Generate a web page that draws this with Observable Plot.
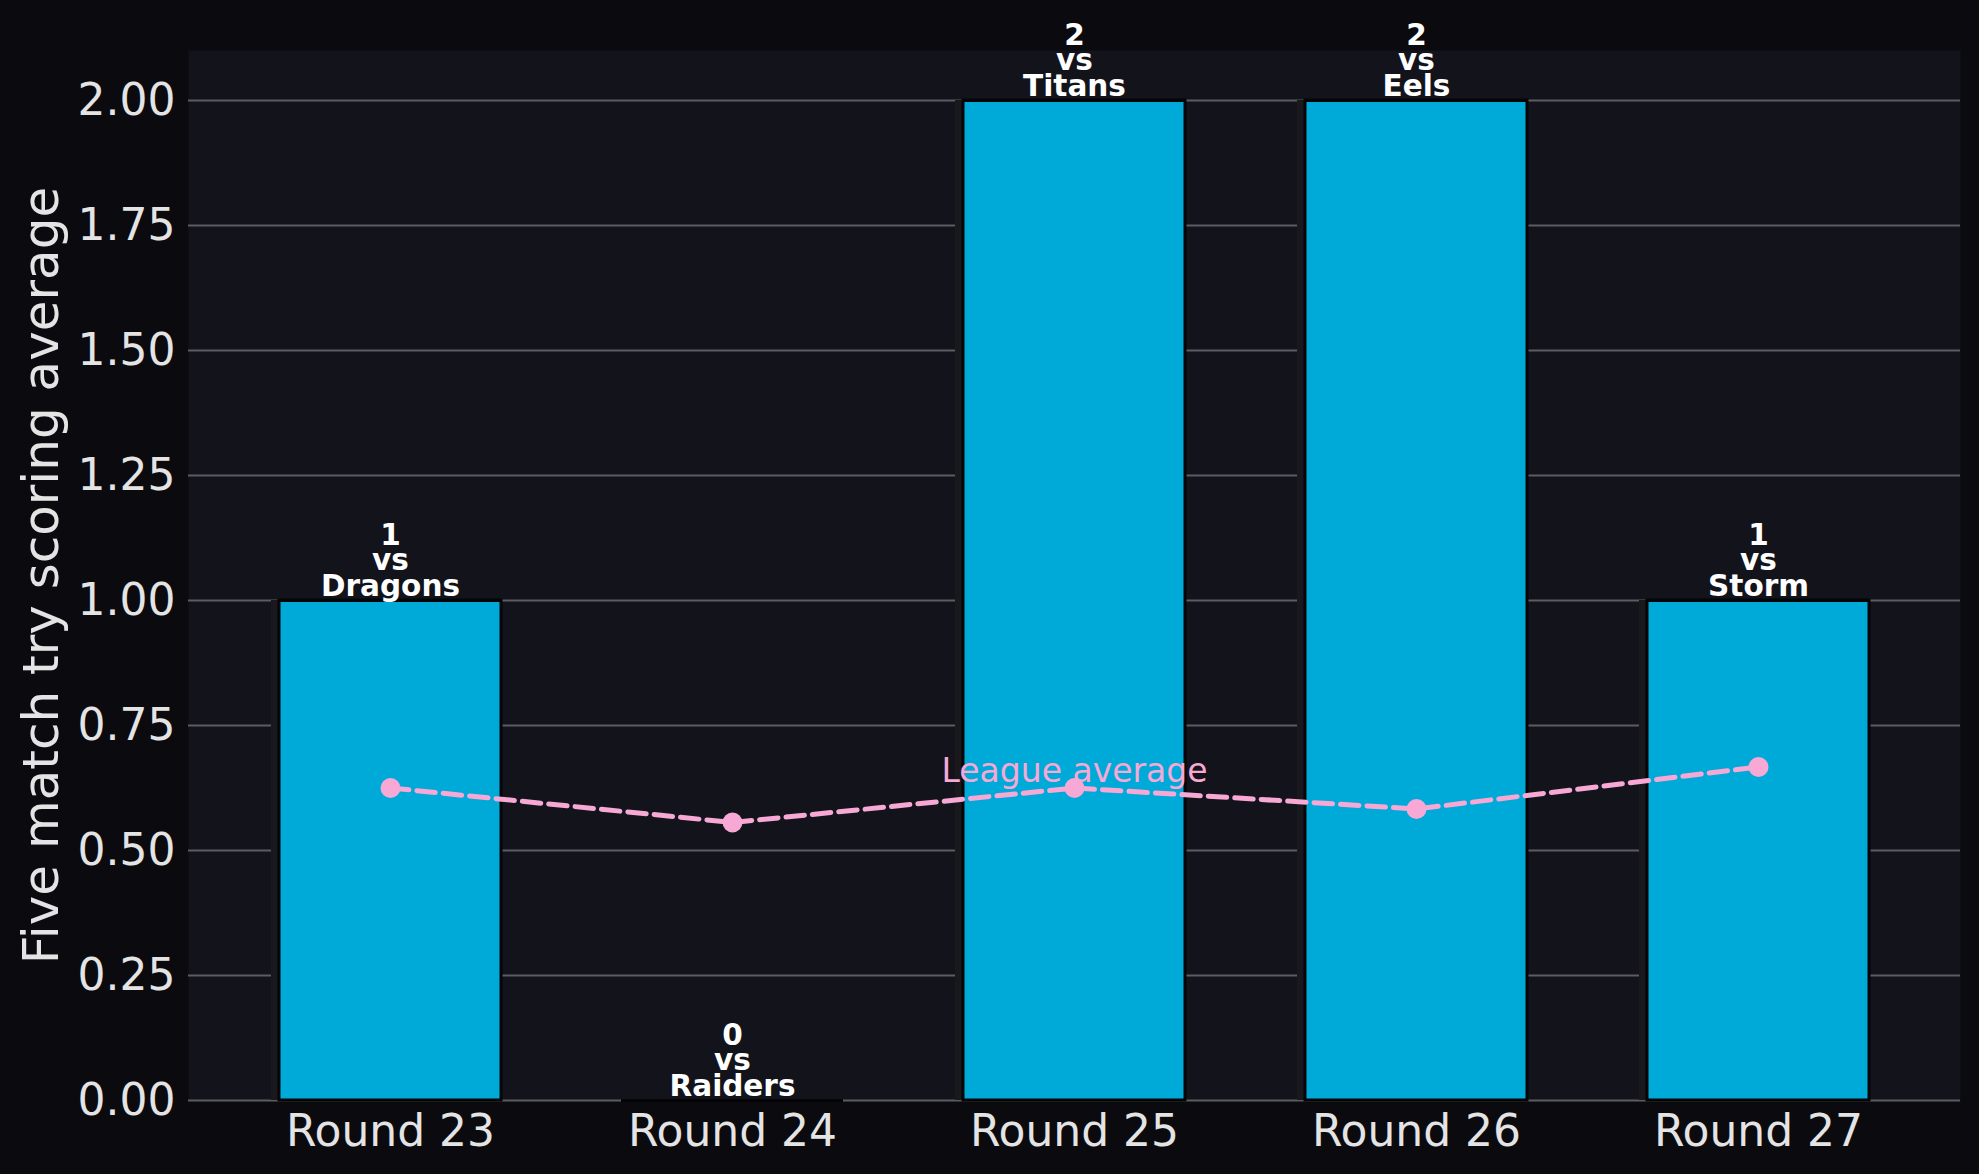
<!DOCTYPE html>
<html>
<head>
<meta charset="utf-8">
<script src="https://cdn.jsdelivr.net/npm/d3@7"></script>
<script src="https://cdn.jsdelivr.net/npm/@observablehq/plot@0.6"></script>
<style>
  html, body { margin: 0; padding: 0; background: #0b0b0f; }
  #chart svg { display: block; }
</style>
</head>
<body>
<div id="chart"></div>
<script>
const rounds = ["Round 23", "Round 24", "Round 25", "Round 26", "Round 27"];
const tries = [1, 0, 2, 2, 1];
const opponents = ["Dragons", "Raiders", "Titans", "Eels", "Storm"];
const leagueAvg = [0.625, 0.556, 0.625, 0.583, 0.667];
const yTicks = [0, 0.25, 0.5, 0.75, 1.0, 1.25, 1.5, 1.75, 2.0];
const yLabel = "Five match try scoring average";
const lineLabel = "League average";

const data = rounds.map((r, i) => ({
  round: r, tries: tries[i], opp: opponents[i], avg: leagueAvg[i],
  label: `${tries[i]}\nvs\n${opponents[i]}`
}));

const font = "DejaVu Sans";
const pink = "#f7a8d4";

const chart = Plot.plot({
  width: 1979,
  height: 1174,
  marginLeft: 188,
  marginRight: 19,
  marginTop: 50,
  marginBottom: 74,
  style: { background: "#0b0b0f", fontFamily: font, color: "#e4e4e4", overflow: "visible" },
  x: { type: "band", domain: rounds, paddingInner: 0.35, paddingOuter: 0.265, label: null },
  y: { domain: [0, 2.1], label: null },
  marks: [
    Plot.frame({ fill: "#13141b", stroke: null }),
    Plot.gridY(yTicks, { stroke: "#5c5c62", strokeOpacity: 1, strokeWidth: 2 }),
    Plot.barY(data, { x: "round", y: "tries", fill: "#18181d", dx: -8 }),
    Plot.barY(data, { x: "round", y: "tries", fill: "#00aad8", stroke: "#050508", strokeWidth: 3 }),
    Plot.tickY(data, { x: "round", y: "tries", stroke: "#050508", strokeWidth: 3 }),
    Plot.axisY(yTicks, { tickSize: 0, tickPadding: 13, fontSize: 44, tickFormat: d3.format(".2f"), label: null, fill: "#e4e4e4" }),
    Plot.axisX({ tickSize: 0, tickPadding: 14, fontSize: 44, label: null, fill: "#e4e4e4" }),
    Plot.text([yLabel], { frameAnchor: "left", dx: -147, rotate: -90, fontSize: 50, fill: "#e4e4e4", textAnchor: "middle", lineAnchor: "middle" }),
    Plot.line(data, { x: "round", y: "avg", stroke: pink, strokeWidth: 5, strokeDasharray: "18.5,8" }),
    Plot.dot(data, { x: "round", y: "avg", r: 10, fill: pink, stroke: null }),
    Plot.text(data.filter(d => d.round === "Round 25"), { x: "round", y: "avg", text: () => lineLabel, fill: pink, fontSize: 33, lineAnchor: "bottom", dy: -6 }),
    Plot.text(data, { x: "round", y: "tries", text: "label", fill: "#ffffff", fontSize: 29.5, fontWeight: "bold", lineAnchor: "bottom", lineHeight: 0.85, dy: -5 })
  ]
});

document.getElementById("chart").appendChild(chart);
</script>
</body>
</html>
